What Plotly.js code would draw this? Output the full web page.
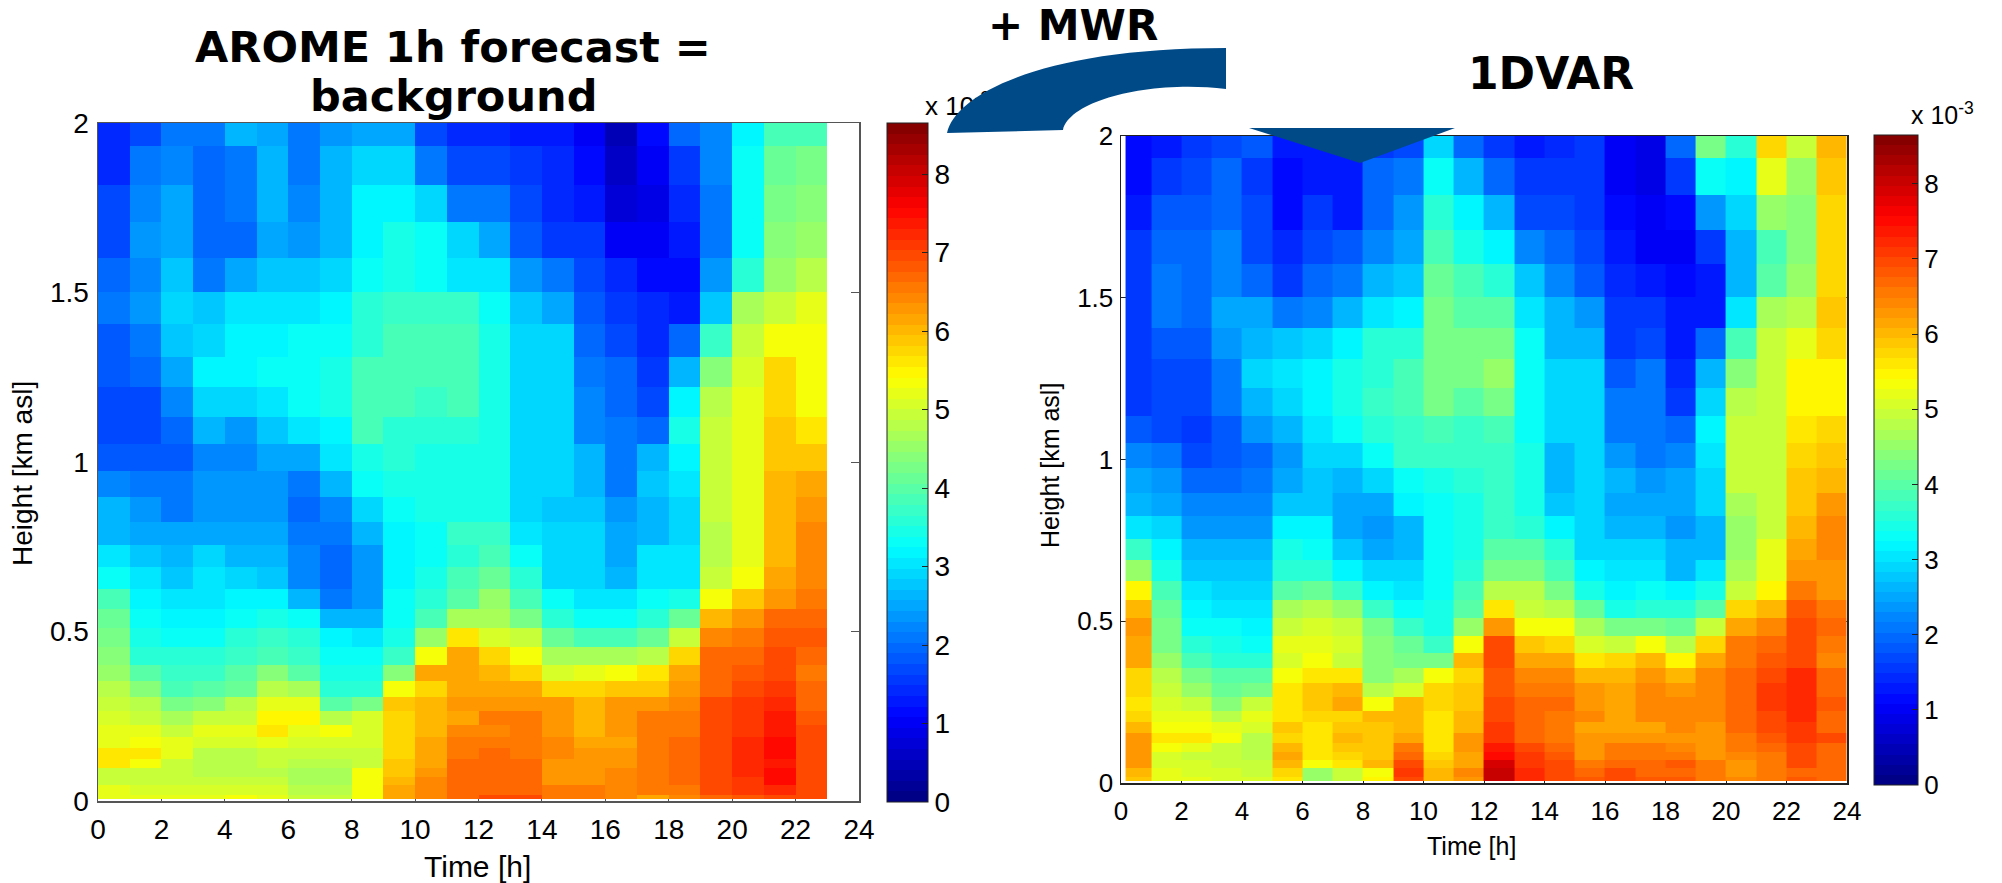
<!DOCTYPE html>
<html><head><meta charset="utf-8">
<script src="https://cdn.plot.ly/plotly-3.0.1.min.js"></script>
<style>html,body{margin:0;padding:0;background:#fff}</style></head>
<body><div id="chart" style="width:2002px;height:883px"></div>
<script>
// height levels (km asl), cell edges, top to bottom
const heightEdges=[2.0,1.931,1.817,1.709,1.603,1.502,1.407,1.311,1.222,1.134,1.052,0.973,0.898,0.824,0.755,0.689,0.625,0.566,0.509,0.455,0.401,0.354,0.308,0.266,0.224,0.188,0.155,0.123,0.096,0.072,0.047,0.018,0.005];
const timeEdgesLeft=[0,1,2,3,4,5,6,7,8,9,10,11,12,13,14,15,16,17,18,19,20,21,22,23];
const timeEdgesRight=[0.15,1,2,3,4,5,6,7,8,9,10,11,12,13,14,15,16,17,18,19,20,21,22,23,24];
const timeTicks=[0,2,4,6,8,10,12,14,16,18,20,22,24];
const heightTicks=[0,0.5,1,1.5,2];
const heightTickText=['0','0.5','1','1.5','2'];
const barTicks=[0,1,2,3,4,5,6,7,8];
// AROME background, x 10^-3, rows top to bottom
const aromeValues=[
[1.4,1.75,2.1,2.1,2.6,2.5,2.1,2.3,2.5,2.5,1.7,1.4,1.4,1.35,1.3,1.05,0.5,1.2,2.0,2.2,3.2,3.9,3.9],
[1.45,2.1,2.2,1.9,2.1,2.6,2.1,2.65,2.9,2.9,2.1,1.7,1.7,1.5,1.4,1.2,0.6,1.05,1.6,2.2,3.3,4.1,4.3],
[1.7,2.2,2.5,1.95,2.1,2.6,2.2,2.6,3.2,3.2,2.85,2.1,2.05,1.7,1.45,1.3,0.75,0.85,1.4,2.05,3.3,4.3,4.4],
[1.75,2.3,2.5,2.0,2.0,2.55,2.3,2.7,3.2,3.4,3.3,2.85,2.5,1.8,1.6,1.5,1.05,1.05,1.3,2.1,3.3,4.4,4.5],
[2.0,2.2,2.8,2.15,2.5,2.8,2.8,2.9,3.3,3.5,3.3,3.1,3.0,2.3,2.1,1.7,1.4,1.15,1.2,2.3,3.6,4.5,4.8],
[2.1,2.3,2.85,2.8,3.0,3.0,3.0,3.2,3.6,3.7,3.7,3.7,3.3,2.8,2.45,1.8,1.6,1.4,1.35,2.8,4.6,4.9,5.2],
[1.85,2.1,2.8,2.95,3.15,3.15,3.25,3.3,3.6,3.85,3.9,3.9,3.45,2.85,2.85,1.95,1.7,1.45,2.0,3.7,5.0,5.4,5.4],
[1.8,1.9,2.55,3.2,3.2,3.25,3.25,3.4,3.85,3.9,3.9,3.9,3.4,2.9,2.9,2.1,1.9,1.55,2.65,4.4,5.1,5.75,5.4],
[1.75,1.75,2.2,2.95,2.95,3.05,3.25,3.4,3.85,3.85,3.75,3.85,3.4,2.9,2.9,2.25,1.9,1.7,3.2,4.85,5.25,5.75,5.4],
[1.75,1.75,2.0,2.6,2.35,2.8,3.0,3.2,3.85,3.6,3.6,3.6,3.4,2.9,2.9,2.25,2.05,2.0,3.4,5.0,5.25,5.9,5.6],
[1.8,1.8,1.8,2.2,2.2,2.45,2.45,3.05,3.5,3.6,3.5,3.5,3.4,2.95,2.95,2.6,2.1,2.7,3.2,5.0,5.25,5.9,5.9],
[2.25,2.1,2.1,2.3,2.3,2.3,2.1,2.6,3.3,3.4,3.5,3.5,3.4,2.9,2.9,2.65,2.1,2.8,3.05,5.0,5.25,6.0,6.1],
[2.6,2.4,2.1,2.35,2.35,2.3,2.0,2.2,2.9,3.35,3.4,3.5,3.5,2.85,2.8,2.8,2.3,2.65,2.95,4.9,5.25,6.0,6.25],
[2.65,2.5,2.5,2.5,2.5,2.45,2.15,2.05,2.6,3.2,3.25,3.65,3.65,3.1,2.85,2.85,2.5,2.7,2.95,4.85,5.2,6.0,6.4],
[3.0,2.8,2.6,2.85,2.7,2.6,2.2,2.0,2.4,3.2,3.25,3.6,3.9,3.3,2.85,2.85,2.5,3.0,3.0,4.85,5.25,6.0,6.4],
[3.35,3.0,2.75,3.0,2.85,2.75,2.2,2.0,2.3,3.2,3.5,3.9,4.1,3.55,2.95,2.95,2.7,3.1,3.1,4.95,5.4,6.1,6.4],
[3.8,3.2,3.0,3.0,3.2,3.2,2.6,2.1,2.3,3.3,3.6,4.0,4.5,3.8,3.25,3.1,3.1,3.25,3.4,5.4,5.9,6.3,6.6],
[4.1,3.3,3.2,3.2,3.25,3.4,3.3,2.7,2.7,3.25,3.85,4.7,4.6,4.2,3.6,3.25,3.35,3.6,4.1,6.0,6.3,6.7,6.7],
[4.2,3.4,3.35,3.35,3.6,3.65,3.55,3.2,3.0,3.5,4.5,5.6,5.05,4.9,4.1,3.85,3.85,4.15,5.0,6.4,6.6,6.8,6.8],
[4.4,3.6,3.55,3.55,3.75,3.9,3.7,3.35,3.35,3.75,5.4,6.1,5.7,5.4,4.65,4.6,4.6,4.85,5.75,6.7,6.7,6.9,6.75],
[4.5,4.0,3.75,3.75,4.0,4.4,4.0,3.5,3.5,4.4,6.1,6.2,6.05,5.8,5.1,5.25,5.4,5.6,6.1,6.7,6.85,7.0,6.6],
[4.85,4.4,3.9,4.0,4.1,4.8,4.6,3.6,3.6,5.4,5.8,6.1,6.2,6.2,5.7,5.7,5.9,5.9,6.3,6.75,7.0,7.05,6.7],
[5.0,4.8,4.25,4.35,4.85,5.2,5.2,4.0,4.25,5.85,6.0,6.25,6.35,6.35,6.3,6.0,6.25,6.25,6.45,6.95,7.15,7.2,6.7],
[5.1,5.0,4.6,5.0,5.0,5.5,5.5,4.8,5.05,5.8,6.05,6.2,6.5,6.5,6.35,6.05,6.3,6.5,6.5,7.0,7.1,7.4,6.85],
[5.15,5.15,5.0,5.15,5.15,5.6,5.15,5.4,5.1,5.7,6.05,6.4,6.45,6.5,6.3,6.05,6.3,6.55,6.6,7.0,7.15,7.4,6.9],
[5.25,5.4,5.2,5.1,5.1,5.2,5.1,5.1,5.05,5.7,6.2,6.55,6.55,6.55,6.4,6.2,6.2,6.55,6.65,7.0,7.25,7.45,7.0],
[5.6,5.6,5.2,4.85,4.85,5.0,5.0,5.0,5.0,5.7,6.2,6.55,6.7,6.55,6.4,6.3,6.3,6.55,6.65,7.0,7.25,7.45,7.0],
[5.6,5.35,4.95,4.85,4.85,5.0,4.85,4.85,5.0,5.85,6.2,6.65,6.65,6.65,6.3,6.3,6.3,6.55,6.7,6.95,7.25,7.4,7.0],
[5.0,5.0,4.9,4.8,4.8,4.85,4.65,4.65,5.3,5.9,6.35,6.7,6.7,6.7,6.3,6.3,6.45,6.55,6.7,6.95,7.25,7.45,7.0],
[5.0,5.0,5.0,4.9,5.0,5.0,4.65,4.65,5.3,5.95,6.4,6.7,6.7,6.7,6.35,6.3,6.45,6.55,6.7,6.95,7.1,7.45,7.0],
[5.25,5.1,5.1,5.05,5.05,5.05,4.85,4.8,5.4,6.1,6.4,6.7,6.7,6.7,6.6,6.6,6.4,6.5,6.6,6.9,7.1,7.2,7.0],
[5.25,5.15,5.2,5.15,5.3,5.15,5.0,5.0,5.4,6.2,6.4,6.7,6.9,6.9,6.6,6.6,6.4,6.2,6.4,6.7,6.8,7.0,7.0]
];
// 1DVAR retrieval, x 10^-3, rows top to bottom
const dvarValues=[
[1.2,1.3,1.6,1.75,1.85,1.35,1.25,1.3,1.5,1.7,2.9,2.0,1.5,1.25,1.45,1.55,1.05,0.85,2.0,4.3,3.6,5.7,4.9,6.0],
[1.2,1.55,1.65,1.95,1.6,1.2,1.3,1.3,1.95,2.15,3.35,2.65,2.0,1.6,1.55,1.55,1.05,0.85,1.5,3.3,3.2,5.15,4.55,5.9],
[1.3,1.8,1.8,2.0,1.7,1.2,1.55,1.35,1.9,2.3,3.55,3.2,2.6,1.75,1.65,1.5,1.15,1.0,1.1,2.3,2.9,4.55,4.35,5.8],
[1.5,2.0,2.0,2.2,1.7,1.4,1.7,1.8,2.2,2.5,3.85,3.5,3.2,2.2,1.95,1.65,1.3,1.05,1.05,1.55,2.65,3.9,4.4,5.7],
[1.55,2.15,1.95,2.25,2.0,1.6,1.9,2.1,2.6,2.8,4.1,3.9,3.55,2.8,2.2,1.8,1.4,1.35,1.2,1.25,2.6,4.0,4.5,5.7],
[1.55,2.1,1.9,2.5,2.5,2.1,2.2,2.6,3.05,3.2,4.25,4.05,4.05,3.05,2.65,2.3,1.55,1.55,1.3,1.3,3.05,4.65,4.85,5.85],
[1.6,1.85,1.85,2.4,2.7,2.8,2.95,3.2,3.55,3.6,4.25,4.25,4.3,3.3,2.65,2.7,1.55,1.7,1.25,1.95,3.85,5.0,5.15,5.7],
[1.55,1.65,1.65,2.1,2.85,3.0,3.2,3.45,3.6,3.85,4.25,4.3,4.55,3.35,2.95,2.95,1.85,2.05,1.4,2.6,4.35,5.0,5.45,5.45],
[1.55,1.65,1.7,2.05,2.65,2.9,3.2,3.4,3.65,3.8,4.2,4.0,4.3,3.35,2.9,2.9,2.1,2.1,1.6,2.95,4.8,5.0,5.45,5.45],
[1.85,1.65,1.6,1.85,2.3,2.6,3.0,3.35,3.55,3.75,3.85,3.75,3.8,3.3,2.9,2.9,2.15,2.1,1.9,3.2,5.0,5.0,5.6,5.7],
[2.25,2.05,1.7,1.85,1.95,2.4,2.85,2.9,3.3,3.7,3.7,3.65,3.75,3.45,2.65,2.9,2.35,2.1,2.25,3.05,5.0,5.0,5.75,5.85],
[2.55,2.3,1.95,1.95,2.05,2.5,2.8,2.6,2.9,3.3,3.5,3.55,3.7,3.45,2.7,2.9,2.6,2.3,2.55,2.95,5.0,5.0,5.85,6.05],
[2.7,2.55,2.2,2.2,2.25,2.75,2.8,2.45,2.5,3.15,3.35,3.5,3.75,3.5,2.8,2.85,2.45,2.45,2.55,2.85,4.7,4.95,5.9,6.25],
[3.1,2.85,2.3,2.3,2.3,3.15,3.15,2.5,2.35,2.7,3.35,3.5,3.75,3.6,3.15,2.85,2.7,2.6,2.4,2.7,4.55,4.9,5.95,6.4],
[3.7,3.2,2.6,2.6,2.6,3.4,3.3,2.8,2.45,2.7,3.35,3.45,4.0,3.95,3.55,2.85,2.85,2.85,2.6,2.7,4.55,5.15,6.1,6.4],
[4.55,3.4,2.8,2.8,2.8,3.6,3.6,3.2,2.85,2.85,3.3,3.55,4.25,4.25,3.85,3.2,3.05,3.05,2.6,3.1,4.7,5.2,6.25,6.3],
[5.5,3.9,3.1,2.9,2.9,4.0,4.1,3.7,3.2,3.05,3.3,3.85,4.8,4.75,4.25,3.5,3.2,3.25,3.2,3.45,5.0,5.5,6.55,6.3],
[6.0,4.1,3.2,3.05,3.05,4.6,4.85,4.5,3.75,3.3,3.4,4.0,5.65,5.0,4.85,4.1,3.5,3.55,3.55,4.0,5.8,6.05,6.85,6.5],
[6.3,4.2,3.3,3.3,3.2,5.0,5.1,5.0,4.3,3.65,3.4,4.5,6.3,5.4,5.4,4.6,4.2,4.2,4.1,5.0,6.2,6.4,7.0,6.7],
[6.2,4.2,3.6,3.45,3.35,5.25,5.25,5.05,4.35,4.1,3.65,5.4,6.9,5.9,5.75,5.05,4.9,5.4,4.85,5.8,6.5,6.65,7.0,6.5],
[6.1,4.5,3.8,3.6,3.6,5.1,5.4,5.0,4.35,4.2,4.2,6.05,6.95,6.2,6.1,5.55,5.75,5.95,5.5,6.1,6.6,6.85,7.0,6.45],
[5.8,4.8,4.2,3.95,3.95,5.4,5.6,5.6,4.4,4.6,5.4,5.75,6.8,6.4,6.4,6.0,6.0,6.3,5.95,6.4,6.7,7.0,7.2,6.65],
[5.75,5.0,4.55,4.1,4.3,5.55,5.85,6.0,4.75,5.1,5.8,5.9,6.8,6.6,6.6,6.35,6.2,6.4,6.3,6.45,6.7,7.05,7.2,6.7],
[5.55,5.1,4.95,4.45,4.9,5.65,5.85,6.1,5.4,5.95,5.8,5.9,6.95,6.65,6.65,6.35,6.15,6.45,6.4,6.45,6.65,7.1,7.25,6.8],
[5.8,5.2,5.15,4.85,5.15,5.6,5.8,5.8,5.95,5.95,5.6,6.0,6.95,6.75,6.6,6.4,6.15,6.45,6.4,6.45,6.7,7.0,7.2,6.75],
[6.0,5.4,5.4,5.15,5.1,5.85,5.55,5.85,5.9,5.95,5.6,6.05,7.05,6.75,6.55,6.2,6.2,6.2,6.45,6.35,6.7,6.95,7.15,6.75],
[6.35,5.6,5.6,5.3,4.85,5.7,5.55,6.0,5.85,6.15,5.6,6.25,7.05,6.75,6.55,6.25,6.25,6.25,6.35,6.35,6.5,6.85,7.1,6.95],
[6.35,5.3,5.2,4.95,4.85,6.05,5.6,5.9,5.9,6.5,5.65,6.25,7.3,7.0,6.65,6.3,6.5,6.5,6.45,6.25,6.5,6.75,7.0,6.75],
[6.35,5.05,5.0,4.95,4.85,6.15,5.6,5.75,5.9,6.75,5.8,6.2,7.5,7.1,6.8,6.3,6.6,6.6,6.5,6.3,6.4,6.6,7.0,6.75],
[6.35,5.05,5.05,5.0,4.9,5.95,5.3,5.55,6.0,7.0,5.85,6.2,7.85,7.1,6.9,6.5,6.7,6.75,6.8,6.5,6.35,6.5,7.0,6.75],
[6.0,5.2,5.1,5.05,5.0,5.7,4.5,5.0,5.4,7.1,6.0,6.4,8.0,7.2,7.0,6.65,6.9,6.75,6.75,6.5,6.35,6.5,6.75,6.75],
[5.9,5.2,5.15,5.1,5.05,5.6,4.5,4.95,5.5,7.0,6.0,6.35,8.0,7.25,7.0,6.8,6.95,6.8,6.8,6.6,6.45,6.6,6.8,6.75]
];
const exponentText='x 10<sup>-3</sup>';
const W=2002,H=883,FONT='"Liberation Sans", Arial, sans-serif',TITLE='"DejaVu Sans", sans-serif';
const ZMAX=8.65;
function clip(v){return Math.max(0,Math.min(1,v));}
function jet(t){return 'rgb('+[Math.abs(4*t-3),Math.abs(4*t-2),Math.abs(4*t-1)].map(d=>Math.round(255*clip(1.5-d))).join(',')+')';}
const jetScale=[];
for(let i=0;i<64;i++){const c=jet((i+0.5)/64);jetScale.push([i/64,c],[(i+1)/64,c]);}
const px=x=>x/W, py=y=>1-y/H;
const P=(x,y)=>px(x).toFixed(5)+','+py(y).toFixed(5);
function heat(x,z,xa,ya,bar){
  return {type:'heatmap',x:x,y:heightEdges.slice().reverse(),z:z.slice().reverse(),xaxis:xa,yaxis:ya,zmin:0,zmax:ZMAX,colorscale:jetScale,zsmooth:false,
    colorbar:{x:px(bar.x),xanchor:'left',xpad:0,ypad:0,thicknessmode:'pixels',thickness:bar.w,lenmode:'pixels',len:bar.bottom-bar.top,y:py(bar.bottom),yanchor:'bottom',
      outlinecolor:'#222',outlinewidth:1,tickmode:'array',tickvals:barTicks,ticktext:barTicks.map(String),ticks:'inside',ticklen:6,tickcolor:'#222',tickfont:{family:FONT,size:bar.font,color:'#000'}}};
}
function exponent(x,y,size){
  return {type:'scatter',mode:'text',x:[x],y:[y],xaxis:'x3',yaxis:'y3',text:[exponentText],textposition:'middle right',cliponaxis:false,showlegend:false,hoverinfo:'skip',textfont:{family:FONT,size:size,color:'#000'}};
}
const data=[
  heat(timeEdgesLeft,aromeValues,'x','y',{x:887,w:41,top:123,bottom:802,font:28}),
  heat(timeEdgesRight,dvarValues,'x2','y2',{x:1874,w:44,top:135,bottom:785,font:26}),
  exponent(925,108,26),
  exponent(1911,118,25)
];
function xAxis(d,anchor,color,size,off){return {domain:[px(d[0]),px(d[1])],range:[0,24],anchor:anchor,tickmode:'array',tickvals:timeTicks,ticktext:timeTicks.map(String),ticks:'inside',ticklen:5,tickcolor:color,tickwidth:1,showline:true,mirror:'ticks',linecolor:color,linewidth:1.5,showgrid:false,zeroline:false,layer:'below traces',ticklabelstandoff:off,tickfont:{family:FONT,size:size,color:'#000'}};}
function yAxis(d,anchor,color,size,off){return {domain:[py(d[1]),py(d[0])],range:[0,2],anchor:anchor,tickmode:'array',tickvals:heightTicks,ticktext:heightTickText,ticks:'inside',ticklen:8,tickcolor:color,tickwidth:1,showline:true,mirror:'ticks',linecolor:color,linewidth:1.5,showgrid:false,zeroline:false,layer:'below traces',ticklabelstandoff:off,tickfont:{family:FONT,size:size,color:'#000'}};}
function note(text,x,y,size,bold,angle){return {xref:'paper',yref:'paper',x:px(x),y:py(y),xanchor:'center',yanchor:'middle',showarrow:false,text:bold?'<b>'+text+'</b>':text,textangle:angle||0,font:{family:bold?TITLE:FONT,size:size,color:'#000'}};}
const arrowColor='#004a87';
const layout={width:W,height:H,margin:{l:0,r:0,t:0,b:0,autoexpand:false},paper_bgcolor:'#fff',plot_bgcolor:'rgba(0,0,0,0)',showlegend:false,
  xaxis:xAxis([98,859],'y','#555',28,3),yaxis:yAxis([123,801],'x','#555',28,2),
  xaxis2:xAxis([1121,1847],'y2','#222',26,4),yaxis2:yAxis([136,783],'x2','#222',26,1),
  xaxis3:{domain:[0,1],range:[0,W],anchor:'y3',visible:false,fixedrange:true},
  yaxis3:{domain:[0,1],range:[H,0],anchor:'x3',visible:false,fixedrange:true},
  annotations:[
    note('AROME 1h forecast =',453,47,43,true),
    note('background',453,96,43,true),
    note('+ MWR',1073,26,42,true),
    note('1DVAR',1551,73,44,true),
    note('Time [h]',477,866,30,false),
    note('Time [h]',1471,846,25,false),
    note('Height [km asl]',22,474,28,false,-90),
    note('Height [km asl]',1050,466,25,false,-90)
  ],
  shapes:[
    {type:'path',xref:'paper',yref:'paper',layer:'above',fillcolor:arrowColor,line:{width:0},
     path:'M'+P(947,133)+' C'+P(955,95)+' '+P(1040,48)+' '+P(1226,48)+' L'+P(1226,89)+' C'+P(1150,80)+' '+P(1070,100)+' '+P(1063,130)+' Z'},
    {type:'path',xref:'paper',yref:'paper',layer:'above',fillcolor:arrowColor,line:{width:0},
     path:'M'+P(1249,128)+' L'+P(1455,128)+' L'+P(1360,163)+' Z'}
  ]};
Plotly.newPlot('chart',data,layout,{displayModeBar:false,staticPlot:true});
</script></body></html>
